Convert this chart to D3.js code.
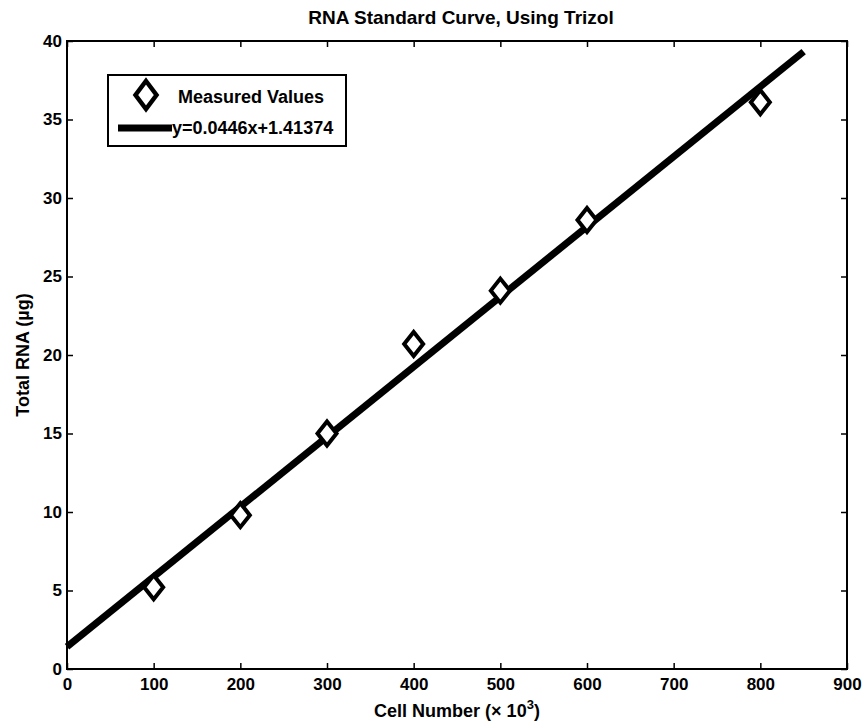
<!DOCTYPE html>
<html>
<head>
<meta charset="utf-8">
<script src="https://cdn.jsdelivr.net/npm/d3@7"></script>
<style>
  body { margin: 0; background: #fff; }
  text { font-family: "Liberation Sans", Arial, sans-serif; fill: #000; font-weight: bold; }
</style>
</head>
<body>
<svg width="863" height="725"></svg>
<script>
// Data
var cellNumbers = [100, 200, 300, 400, 500, 600, 800];
var totalRna = [5.2, 9.8, 15.0, 20.7, 24.1, 28.6, 36.1];
var fitSlope = 0.0446, fitIntercept = 1.41374;
var fitRange = [0, 850];
var xTicks = [0, 100, 200, 300, 400, 500, 600, 700, 800, 900];
var yTicks = [0, 5, 10, 15, 20, 25, 30, 35, 40];

var svg = d3.select("svg");
var margin = { left: 67, right: 16, top: 41, bottom: 56 };
var width = 863 - margin.left - margin.right,
  height = 725 - margin.top - margin.bottom;

var x = d3.scaleLinear().domain([0, 900]).range([0, width]);
var y = d3.scaleLinear().domain([0, 40]).range([height, 0]);

var g = svg.append("g").attr("transform", `translate(${margin.left},${margin.top})`);

// axes with inward ticks (box style)
function styleAxis(sel) {
  sel.select(".domain").remove();
  sel.selectAll(".tick line").attr("stroke", "#000").attr("stroke-width", 1.5);
  sel.selectAll(".tick text").attr("font-size", 17);
}
g.append("g").attr("transform", `translate(0,${height})`)
  .call(d3.axisBottom(x).tickValues(xTicks).tickSize(-6).tickPadding(9))
  .call(styleAxis);
g.append("g")
  .call(d3.axisLeft(y).tickValues(yTicks).tickSize(-6).tickPadding(5))
  .call(styleAxis);
g.append("g")
  .call(d3.axisTop(x).tickValues(xTicks).tickSize(-6).tickFormat(""))
  .call(styleAxis);
g.append("g").attr("transform", `translate(${width},0)`)
  .call(d3.axisRight(y).tickValues(yTicks).tickSize(-6).tickFormat(""))
  .call(styleAxis);

g.append("rect").attr("width", width).attr("height", height)
  .attr("fill", "none").attr("stroke", "#000").attr("stroke-width", 2);

// fit line
var line = d3.line().x((d) => x(d)).y((d) => y(fitSlope * d + fitIntercept));
g.append("path").datum(fitRange).attr("d", line)
  .attr("fill", "none").attr("stroke", "#000").attr("stroke-width", 7);

// matlab style diamond, a bit taller than wide
function diamond(hw, hh) {
  return `M0,${-hh}L${hw},0L0,${hh}L${-hw},0Z`;
}
g.selectAll(".pt").data(cellNumbers).enter().append("path")
  .attr("class", "pt")
  .attr("d", diamond(9.5, 12))
  .attr("transform", (d, i) => `translate(${x(d)},${y(totalRna[i])})`)
  .attr("fill", "#fff").attr("stroke", "#000").attr("stroke-width", 4)
  .attr("stroke-linejoin", "miter");

// legend
var lg = svg.append("g").attr("transform", "translate(108,75)");
lg.append("rect").attr("width", 238).attr("height", 71)
  .attr("fill", "#fff").attr("stroke", "#000").attr("stroke-width", 2);
lg.append("path").attr("d", diamond(10.5, 14))
  .attr("transform", "translate(38,20)")
  .attr("fill", "#fff").attr("stroke", "#000").attr("stroke-width", 4.5);
lg.append("text").attr("x", 70).attr("y", 28).attr("font-size", 18).text("Measured Values");
lg.append("line").attr("x1", 10).attr("x2", 64).attr("y1", 53).attr("y2", 53)
  .attr("stroke", "#000").attr("stroke-width", 7);
lg.append("text").attr("x", 64).attr("y", 59).attr("font-size", 18).text("y=0.0446x+1.41374");

// title and labels
svg.append("text").attr("x", margin.left + width / 2 + 4).attr("y", 24)
  .attr("text-anchor", "middle").attr("font-size", 19)
  .text("RNA Standard Curve, Using Trizol");

var xl = svg.append("text").attr("x", margin.left + width / 2).attr("y", 717)
  .attr("text-anchor", "middle").attr("font-size", 18);
xl.append("tspan").text("Cell Number (× 10");
xl.append("tspan").attr("dy", -8).attr("font-size", 13).text("3");
xl.append("tspan").attr("dy", 8).text(")");

svg.append("text")
  .attr("transform", `translate(29,${margin.top + height / 2}) rotate(-90)`)
  .attr("text-anchor", "middle").attr("font-size", 18)
  .text("Total RNA (µg)");
</script>
</body>
</html>
